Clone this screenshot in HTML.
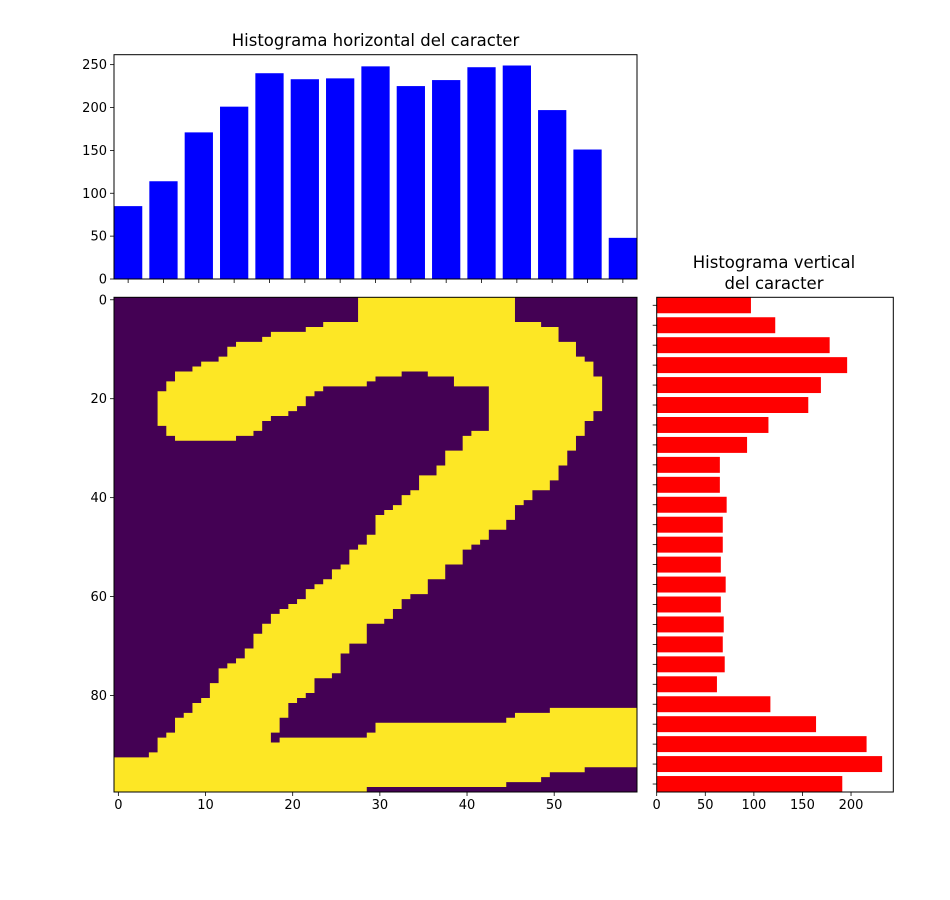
<!DOCTYPE html>
<html><head><meta charset="utf-8"><style>
html,body{margin:0;padding:0;background:#fff;}
svg{display:block;font-family:"DejaVu Sans","Liberation Sans",sans-serif;}
</style></head><body>
<svg id="fig" width="950" height="900" viewBox="0 0 950 900" xmlns="http://www.w3.org/2000/svg">
<rect width="950" height="900" fill="#fff"/>
<text x="375.5" y="46" font-size="16.5" text-anchor="middle">Histograma horizontal del caracter</text>
<text x="774" y="268" font-size="16.5" text-anchor="middle">Histograma vertical</text>
<text x="774" y="289" font-size="16.5" text-anchor="middle">del caracter</text>
<g id="top"></g>
<g id="img"></g>
<g id="right"></g>
</svg>
<script>
// Top histogram data
const colBins = [0,1,2,3,4,5,6,7,8,9,10,11,12,13,14];
const colCounts = [85,114,171,201,240,233,234,248,225,232,247,249,197,151,48];
const topYTicks = [0,50,100,150,200,250];
// Right histogram data
const rowBins = [0,1,2,3,4,5,6,7,8,9,10,11,12,13,14,15,16,17,18,19,20,21,22,23,24];
const rowCounts = [97,122,178,196,169,156,115,93,65,65,72,68,68,66,71,66,69,68,70,62,117,164,216,232,191];
const rightXTicks = [0,50,100,150,200];
// Image axis ticks
const imgXTicks = [0,10,20,30,40,50];
const imgYTicks = [0,20,40,60,80];
// Yellow region of the character image: [col,row] corners
const glyphPoints = [
[28,0],[46,0],[46,5],[49,5],[49,6],[51,6],[51,9],[53,9],[53,12],[54,12],[54,13],[55,13],[55,16],[56,16],
[56,23],[55,23],[55,25],[54,25],[54,28],[53,28],[53,31],[52,31],[52,34],[51,34],[51,37],[50,37],[50,39],
[48,39],[48,41],[47,41],[47,42],[46,42],[46,45],[45,45],[45,47],[43,47],[43,49],[42,49],[42,50],[41,50],
[41,51],[40,51],[40,54],[38,54],[38,57],[36,57],[36,60],[34,60],[34,61],[33,61],[33,63],[32,63],[32,65],
[31,65],[31,66],[29,66],[29,70],[27,70],[27,72],[26,72],[26,76],[25,76],[25,77],[23,77],[23,80],[22,80],
[22,81],[21,81],[21,82],[20,82],[20,85],[19,85],[19,88],[18,88],[18,90],[19,90],[19,89],[29,89],[29,88],
[30,88],[30,86],[45,86],[45,85],[46,85],[46,84],[50,84],[50,83],[60,83],[60,95],[54,95],[54,96],[50,96],
[50,97],[49,97],[49,98],[45,98],[45,99],[29,99],[29,100],[0,100],[0,93],[4,93],[4,92],[5,92],[5,89],[6,89],
[6,88],[7,88],[7,85],[8,85],[8,84],[9,84],[9,82],[10,82],[10,81],[11,81],[11,78],[12,78],[12,75],[13,75],
[13,74],[14,74],[14,73],[15,73],[15,71],[16,71],[16,68],[17,68],[17,66],[18,66],[18,64],[19,64],[19,63],
[20,63],[20,62],[21,62],[21,61],[22,61],[22,59],[23,59],[23,58],[24,58],[24,57],[25,57],[25,55],[26,55],
[26,54],[27,54],[27,51],[28,51],[28,50],[29,50],[29,48],[30,48],[30,44],[31,44],[31,43],[32,43],[32,42],
[33,42],[33,40],[34,40],[34,39],[35,39],[35,36],[37,36],[37,34],[38,34],[38,31],[40,31],[40,28],[41,28],
[41,27],[43,27],[43,18],[39,18],[39,16],[36,16],[36,15],[33,15],[33,16],[30,16],[30,17],[29,17],[29,18],
[24,18],[24,19],[23,19],[23,20],[22,20],[22,22],[21,22],[21,23],[20,23],[20,24],[18,24],[18,25],[17,25],
[17,27],[16,27],[16,28],[14,28],[14,29],[7,29],[7,28],[6,28],[6,26],[5,26],[5,19],[6,19],[6,17],[7,17],
[7,15],[9,15],[9,14],[10,14],[10,13],[12,13],[12,12],[13,12],[13,10],[14,10],[14,9],[17,9],[17,8],[18,8],
[18,7],[22,7],[22,6],[24,6],[24,5],[28,5]
];

const NS = "http://www.w3.org/2000/svg";
function mk(tag, attrs, parent){const e=document.createElementNS(NS,tag);for(const k in attrs)e.setAttribute(k,attrs[k]);parent.appendChild(e);return e;}

const IMG = {x0:114, x1:637, y0:297.3, y1:792};
const TOP = {x0:114, x1:637, y0:54.7, y1:279};
const RGT = {x0:656.7, x1:893.3, y0:297.3, y1:792};

// ---------- Top histogram ----------
const gTop = document.getElementById('top');
const tx = v => TOP.x0 + (v + 0.4) * (TOP.x1 - TOP.x0) / 14.8;
const ty = v => TOP.y1 - v * (TOP.y1 - TOP.y0) / 261.6;
colBins.forEach((b,i)=>{
  const r = mk('rect',{x:tx(b-0.4),y:ty(colCounts[i]),width:tx(0.4)-tx(-0.4),height:ty(0)-ty(colCounts[i]),fill:'#0000ff'},gTop);
  
  
  const t = mk('line',{x1:tx(b),x2:tx(b),y1:TOP.y1,y2:TOP.y1+4,stroke:'#000','stroke-width':0.8},gTop);
  
  
});
topYTicks.forEach(v=>{
  const l = mk('line',{x1:TOP.x0-4,x2:TOP.x0,y1:ty(v),y2:ty(v),stroke:'#000','stroke-width':0.8},gTop);
  
  
  const t = mk('text',{x:TOP.x0-7,y:ty(v)+4.5,'font-size':13,'text-anchor':'end'},gTop);
  t.textContent=v;
  
  
});
const f1 = mk('rect',{x:TOP.x0,y:TOP.y0,width:TOP.x1-TOP.x0,height:TOP.y1-TOP.y0,fill:'none',stroke:'#000','stroke-width':1},gTop);



// ---------- Image ----------
const gImg = document.getElementById('img');
const ix = c => IMG.x0 + c * (IMG.x1 - IMG.x0) / 60;
const iy = r => IMG.y0 + r * (IMG.y1 - IMG.y0) / 100;
const bg = mk('rect',{x:IMG.x0,y:IMG.y0,width:IMG.x1-IMG.x0,height:IMG.y1-IMG.y0,fill:'#440154'},gImg);


const pts = glyphPoints.map(p=>ix(p[0]).toFixed(2)+','+iy(p[1]).toFixed(2)).join(' ');
const poly = mk('polygon',{points:pts,fill:'#fde725'},gImg);


imgXTicks.forEach(v=>{
  const x = ix(v+0.5);
  const l = mk('line',{x1:x,x2:x,y1:IMG.y1,y2:IMG.y1+4,stroke:'#000','stroke-width':0.8},gImg);
  
  
  const t = mk('text',{x:x,y:IMG.y1+17,'font-size':13,'text-anchor':'middle'},gImg);
  t.textContent=v;
  
  
});
imgYTicks.forEach(v=>{
  const y = iy(v+0.5);
  const l = mk('line',{x1:IMG.x0-4,x2:IMG.x0,y1:y,y2:y,stroke:'#000','stroke-width':0.8},gImg);
  
  
  const t = mk('text',{x:IMG.x0-7,y:y+4.5,'font-size':13,'text-anchor':'end'},gImg);
  t.textContent=v;
  
  
});
const f2 = mk('rect',{x:IMG.x0,y:IMG.y0,width:IMG.x1-IMG.x0,height:IMG.y1-IMG.y0,fill:'none',stroke:'#000','stroke-width':1},gImg);



// ---------- Right histogram ----------
const gR = document.getElementById('right');
const rx = v => RGT.x0 + v * (RGT.x1 - RGT.x0) / 243.5;
const ry = v => RGT.y0 + (v + 0.4) * (RGT.y1 - RGT.y0) / 24.8;
rowBins.forEach((b,i)=>{
  const r = mk('rect',{x:rx(0),y:ry(b-0.4),width:rx(rowCounts[i])-rx(0),height:ry(0.4)-ry(-0.4),fill:'#ff0000'},gR);
  
  
  const t = mk('line',{x1:RGT.x0-4,x2:RGT.x0,y1:ry(b),y2:ry(b),stroke:'#000','stroke-width':0.8},gR);
  
  
});
rightXTicks.forEach(v=>{
  const l = mk('line',{x1:rx(v),x2:rx(v),y1:RGT.y1,y2:RGT.y1+4,stroke:'#000','stroke-width':0.8},gR);
  
  
  const t = mk('text',{x:rx(v),y:RGT.y1+17,'font-size':13,'text-anchor':'middle'},gR);
  t.textContent=v;
  
  
});
const f3 = mk('rect',{x:RGT.x0,y:RGT.y0,width:RGT.x1-RGT.x0,height:RGT.y1-RGT.y0,fill:'none',stroke:'#000','stroke-width':1},gR);


</script>
</body></html>
